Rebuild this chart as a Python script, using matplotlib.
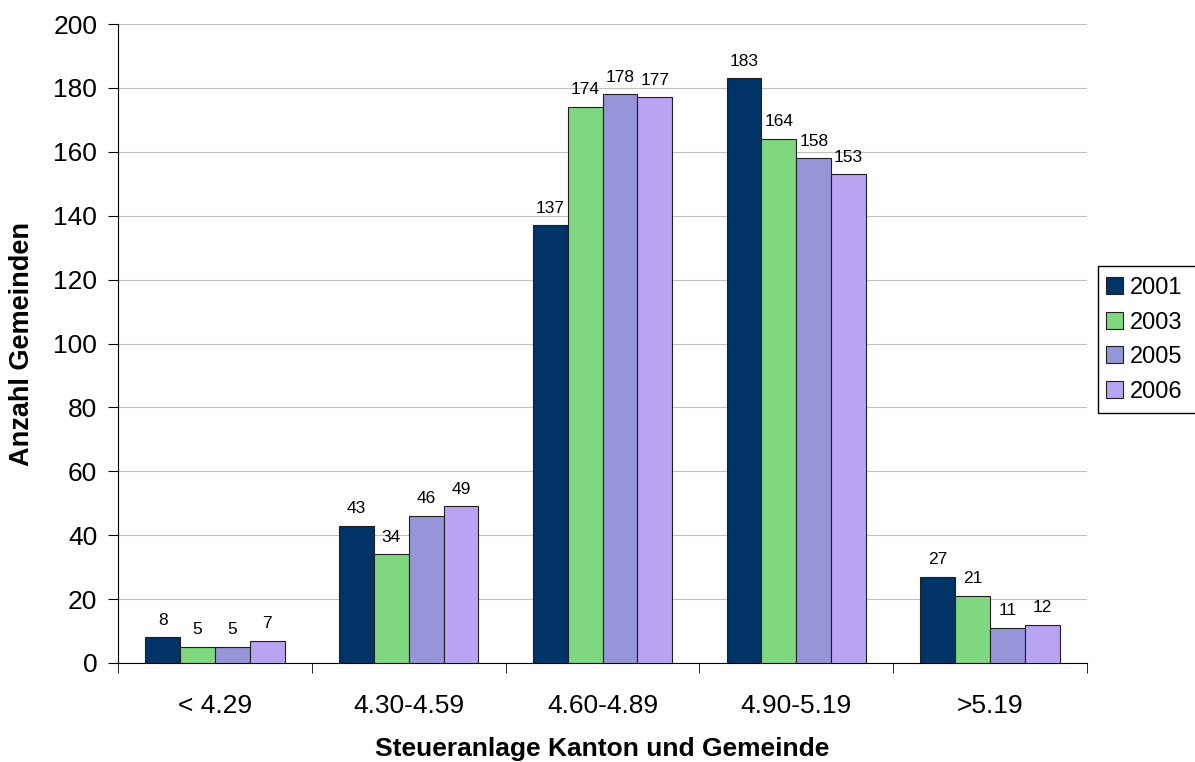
import matplotlib.pyplot as plt
from matplotlib.patches import Rectangle
import numpy as np

plt.rcParams['font.family'] = ['Liberation Sans', 'DejaVu Sans']

categories = ["< 4.29", "4.30-4.59", "4.60-4.89", "4.90-5.19", ">5.19"]
years = ["2001", "2003", "2005", "2006"]
values = {
    "2001": [8, 43, 137, 183, 27],
    "2003": [5, 34, 174, 164, 21],
    "2005": [5, 46, 178, 158, 11],
    "2006": [7, 49, 177, 153, 12],
}
colors = ["#003366", "#7fd87f", "#9595d8", "#b9a4f2"]

W, H = 1195, 762
fig = plt.figure(figsize=(W / 100, H / 100), dpi=100)
ax = fig.add_axes([118 / W, 1 - 663 / H, (1087 - 118) / W, (663 - 24) / H])

x = np.arange(len(categories))
w = 0.18
for i, yr in enumerate(years):
    pos = x + (i - 1.5) * w
    bars = ax.bar(pos, values[yr], width=w, color=colors[i],
                  edgecolor="#202020", linewidth=0.8, label=yr, zorder=3)
    for b, v in zip(bars, values[yr]):
        ax.text(b.get_x() + b.get_width() / 2, v + 3, str(v),
                ha="center", va="bottom", fontsize=12.5)

ax.set_xlim(-0.5, len(categories) - 0.5)
ax.set_ylim(0, 200)
ax.set_yticks(range(0, 201, 20))
ax.tick_params(axis="y", labelsize=19, length=7, pad=8, color="black")
ax.set_xticks(x)
ax.set_xticklabels(categories, fontsize=19)
ax.tick_params(axis="x", length=0, pad=22)
ax.set_xticks(np.arange(-0.5, len(categories)), minor=True)
ax.tick_params(axis="x", which="minor", length=7, color="black")
ax.grid(axis="y", color="#c0c0c0", linewidth=0.8, zorder=0)

for s in ["top", "right"]:
    ax.spines[s].set_visible(False)
for s in ["left", "bottom"]:
    ax.spines[s].set_color("black")

ax.set_ylabel("Anzahl Gemeinden", fontsize=19.5, fontweight="bold", labelpad=13)
ax.set_xlabel("Steueranlage Kanton und Gemeinde", fontsize=19,
              fontweight="bold", labelpad=14)

# legend box runs off the right edge, as in the original
fig.add_artist(Rectangle((1098 / W, 1 - 413 / H), 120 / W, (413 - 266) / H,
                         transform=fig.transFigure, facecolor="white",
                         edgecolor="black", linewidth=1.0, zorder=4))
leg = fig.legend(loc="upper left", bbox_to_anchor=(1106 / W, 1 - 277 / H),
                 fontsize=17, frameon=False,
                 handlelength=0.72, handleheight=0.72, handletextpad=0.3,
                 labelspacing=0.53, borderpad=0, borderaxespad=0)
leg.set_zorder(5)

fig.savefig("out.png", dpi=100)
